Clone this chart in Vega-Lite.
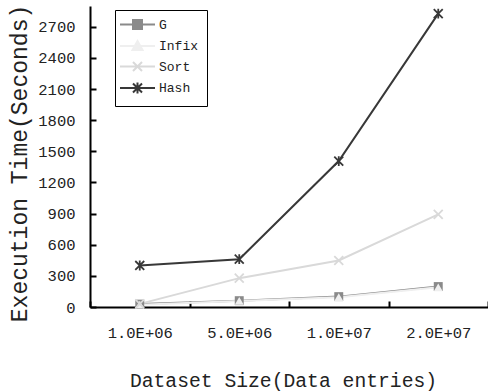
{
  "$schema": "https://vega.github.io/schema/vega-lite/v6.json",
  "autosize": "none",
  "width": 398,
  "height": 301,
  "padding": {"left": 90, "top": 6, "right": 0, "bottom": 85},
  "background": "white",
  "data": {
    "values": [
      {"size": "1.0E+06", "series": "G", "time": 28},
      {"size": "5.0E+06", "series": "G", "time": 61},
      {"size": "1.0E+07", "series": "G", "time": 100},
      {"size": "2.0E+07", "series": "G", "time": 197},
      {"size": "1.0E+06", "series": "Infix", "time": 22},
      {"size": "5.0E+06", "series": "Infix", "time": 58},
      {"size": "1.0E+07", "series": "Infix", "time": 95},
      {"size": "2.0E+07", "series": "Infix", "time": 190},
      {"size": "1.0E+06", "series": "Sort", "time": 30},
      {"size": "5.0E+06", "series": "Sort", "time": 278},
      {"size": "1.0E+07", "series": "Sort", "time": 448},
      {"size": "2.0E+07", "series": "Sort", "time": 893},
      {"size": "1.0E+06", "series": "Hash", "time": 400},
      {"size": "5.0E+06", "series": "Hash", "time": 461},
      {"size": "1.0E+07", "series": "Hash", "time": 1406},
      {"size": "2.0E+07", "series": "Hash", "time": 2826}
    ]
  },
  "encoding": {
    "x": {
      "field": "size", "type": "ordinal",
      "sort": ["1.0E+06", "5.0E+06", "1.0E+07", "2.0E+07"],
      "scale": {"type": "band", "paddingInner": 0, "paddingOuter": 0},
      "axis": {
        "title": "Dataset Size(Data entries)",
        "labelAngle": 0,
        "tickBand": "extent",
        "labelPadding": 24,
        "titleY": 79,
        "titleX": 193,
        "titleBaseline": "alphabetic",
        "titleFontSize": 19.7
      }
    },
    "y": {
      "field": "time", "type": "quantitative",
      "scale": {"domain": [0, 2900], "nice": false},
      "axis": {
        "title": "Execution Time(Seconds)",
        "format": "d",
        "values": [0, 300, 600, 900, 1200, 1500, 1800, 2100, 2400, 2700],
        "labelPadding": 21,
        "titleX": -64,
        "titleY": 157,
        "titleAngle": -90,
        "titleAlign": "center",
        "titleBaseline": "alphabetic",
        "titleFontSize": 23
      }
    }
  },
  "layer": [
    {
      "mark": {"type": "line", "strokeWidth": 2},
      "encoding": {
        "color": {
          "field": "series", "type": "nominal",
          "scale": {"domain": ["G", "Infix", "Sort", "Hash"], "range": ["#8a8a8a", "#efefef", "#d9d9d9", "#383838"]},
          "legend": {
            "title": null,
            "orient": "none",
            "legendX": 25,
            "legendY": 4,
            "padding": 8,
            "strokeColor": "black",
            "fillColor": "white",
            "symbolSize": 100,
            "symbolStrokeWidth": 2,
            "symbolOffset": 8,
            "labelOffset": 15,
            "rowPadding": 3.5,
            "labelFont": "Liberation Mono",
            "labelFontSize": 13,
            "labelColor": "#222",
            "encode": {
              "symbols": {
                "update": {
                  "shape": {"signal": "datum.value == 'G' ? 'M-3.5,0L3.5,0M-0.9,-0.9L0.9,-0.9L0.9,0.9L-0.9,0.9Z' : datum.value == 'Infix' ? 'M-3.5,0L3.5,0M0,-1L1,0.8L-1,0.8Z' : datum.value == 'Sort' ? 'M-3.5,0L3.5,0M-0.9,-0.9L0.9,0.9M-0.9,0.9L0.9,-0.9' : 'M-3.5,0L3.5,0M-0.9,-0.9L0.9,0.9M-0.9,0.9L0.9,-0.9M0,-1.1L0,1.1'"},
                  "fill": {"signal": "scale('color', datum.value)"},
                  "stroke": {"signal": "scale('color', datum.value)"}
                }
              }
            }
          }
        }
      }
    },
    {
      "transform": [{"filter": "datum.series == 'G'"}],
      "mark": {"type": "point", "shape": "square", "filled": true, "color": "#8a8a8a", "size": 80, "opacity": 1}
    },
    {
      "transform": [{"filter": "datum.series == 'Infix'"}],
      "mark": {"type": "point", "shape": "triangle-up", "filled": true, "color": "#efefef", "size": 80, "opacity": 1}
    },
    {
      "transform": [{"filter": "datum.series == 'Sort'"}],
      "mark": {"type": "point", "shape": "M-1,-1L1,1M-1,1L1,-1", "filled": false, "color": "#d9d9d9", "size": 80, "strokeWidth": 1.8, "opacity": 1}
    },
    {
      "transform": [{"filter": "datum.series == 'Hash'"}],
      "mark": {"type": "point", "shape": "M-1,-1L1,1M-1,1L1,-1M0,-1.1L0,1.1", "filled": false, "color": "#383838", "size": 80, "strokeWidth": 1.8, "opacity": 1}
    }
  ],
  "config": {
    "view": {"stroke": null},
    "axis": {
      "grid": false,
      "domainColor": "black",
      "domainWidth": 2,
      "tickColor": "black",
      "tickWidth": 2,
      "tickSize": -6,
      "labelFont": "Liberation Mono",
      "labelFontSize": 15.5,
      "labelColor": "#222",
      "titleFont": "Liberation Mono",
      "titleFontWeight": "normal",
      "titleColor": "#222"
    }
  }
}
